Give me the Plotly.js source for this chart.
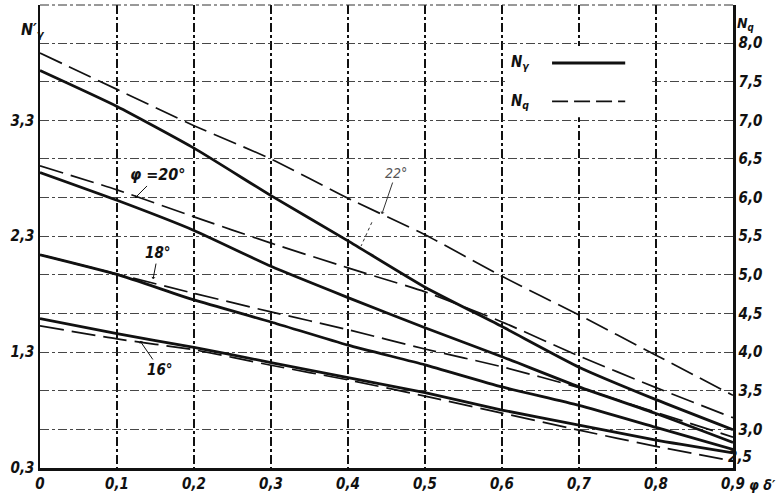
<!DOCTYPE html>
<html>
<head>
<meta charset="utf-8">
<script src="https://cdn.plot.ly/plotly-3.0.1.min.js"></script>
<style>
  html, body { margin: 0; padding: 0; background: #fff; }
  #chart { width: 783px; height: 496px; }
</style>
</head>
<body>
<div id="chart"></div>
<script>
// delta'/phi ratio
var ratio = [0, 0.1, 0.2, 0.3, 0.4, 0.5, 0.6, 0.7, 0.8, 0.9];
var ratioLabels = ['0', '0,1', '0,2', '0,3', '0,4', '0,5', '0,6', '0,7', '0,8', '0,9'];

// N_gamma (solid, left axis)
var nGamma22 = [3.73, 3.42, 3.06, 2.65, 2.26, 1.86, 1.52, 1.17, 0.89, 0.63];
var nGamma20 = [2.85, 2.61, 2.35, 2.04, 1.77, 1.51, 1.26, 1.00, 0.77, 0.52];
var nGamma18 = [2.14, 1.97, 1.75, 1.56, 1.36, 1.19, 1.00, 0.84, 0.65, 0.46];
var nGamma16 = [1.59, 1.46, 1.34, 1.21, 1.08, 0.95, 0.80, 0.67, 0.54, 0.43];

// N_q (dashed, right axis)
var nQ22 = [7.87, 7.40, 6.93, 6.50, 5.99, 5.52, 4.98, 4.48, 3.96, 3.44];
var nQ20 = [6.41, 6.10, 5.75, 5.41, 5.09, 4.78, 4.39, 3.95, 3.54, 3.15];
var nQ18 = [5.26, 5.01, 4.76, 4.52, 4.29, 4.04, 3.81, 3.54, 3.22, 2.90];
var nQ16 = [4.34, 4.17, 4.03, 3.83, 3.64, 3.43, 3.21, 2.99, 2.78, 2.59];

var leftTicks = [0.3, 1.3, 2.3, 3.3];
var leftLabels = ['0,3', '1,3', '2,3', '3,3'];
// 2,5 is written a little above its line, so it is added separately
var rightTicks = [2.5, 3.0, 3.5, 4.0, 4.5, 5.0, 5.5, 6.0, 6.5, 7.0, 7.5, 8.0];
var rightLabels = ['', '3,0', '3,5', '4,0', '4,5', '5,0', '5,5', '6,0', '6,5', '7,0', '7,5', '8,0'];

var FONT = 'DejaVu Sans Condensed, Liberation Sans Narrow, DejaVu Sans, sans-serif';
var INK = '#111';

function solid(y) {
    return { x: ratio, y: y, yaxis: 'y', mode: 'lines', type: 'scatter',
             line: { color: INK, width: 2.8, shape: 'spline', smoothing: 0.5 },
             hoverinfo: 'skip', showlegend: false };
}
function dashed(y) {
    return { x: ratio, y: y, yaxis: 'y2', mode: 'lines', type: 'scatter',
             line: { color: INK, width: 1.7, dash: '24px,8px', shape: 'spline', smoothing: 0.5 },
             hoverinfo: 'skip', showlegend: false };
}

var data = [
    solid(nGamma22), solid(nGamma20), solid(nGamma18), solid(nGamma16),
    dashed(nQ22), dashed(nQ20), dashed(nQ18), dashed(nQ16)
];

function font(size, color) {
    return { family: FONT, size: size, color: color || INK, style: 'italic', weight: 'bold' };
}

var layout = {
    width: 783,
    height: 496,
    margin: { l: 40, r: 50, t: 5, b: 28 },
    paper_bgcolor: '#fff',
    plot_bgcolor: '#fff',
    showlegend: false,
    xaxis: {
        range: [0, 0.9],
        tickvals: ratio,
        ticktext: ratioLabels,
        tickfont: font(15),
        ticks: '',
        showgrid: true,
        gridcolor: INK,
        gridwidth: 1.3,
        griddash: 'dashdot',
        showline: true,
        linecolor: INK,
        linewidth: 2.5,
        zeroline: false,
        fixedrange: true
    },
    yaxis: {
        range: [0.3, 4.295],
        tickvals: leftTicks,
        ticktext: leftLabels,
        tickfont: font(15),
        ticks: '',
        showgrid: false,
        showline: true,
        linecolor: INK,
        linewidth: 2.5,
        zeroline: false,
        fixedrange: true
    },
    yaxis2: {
        overlaying: 'y',
        side: 'right',
        range: [2.5, 8.492],
        tickvals: rightTicks,
        ticktext: rightLabels,
        tickfont: font(15),
        ticks: '',
        showgrid: true,
        gridcolor: '#333',
        gridwidth: 0.9,
        griddash: 'dashdot',
        showline: true,
        linecolor: INK,
        linewidth: 2.5,
        zeroline: false,
        fixedrange: true
    },
    shapes: [
        // dashed top frame
        { type: 'line', xref: 'paper', yref: 'paper', x0: 0, x1: 1, y0: 1, y1: 1,
          line: { color: '#333', width: 1, dash: 'dashdot' } },
        // legend cell blanked out
        { type: 'rect', xref: 'x', yref: 'y2', x0: 0.605, x1: 0.795, y0: 7.04, y1: 7.96,
          fillcolor: '#fff', line: { width: 0 }, layer: 'above' },
        { type: 'line', xref: 'x', yref: 'y2', x0: 0.665, x1: 0.76, y0: 7.741, y1: 7.741,
          line: { color: INK, width: 3 } },
        { type: 'line', xref: 'x', yref: 'y2', x0: 0.665, x1: 0.76, y0: 7.244, y1: 7.244,
          line: { color: INK, width: 1.7, dash: '16px,6px' } },
        // dotted leader to the 22 deg solid curve
        { type: 'line', xref: 'x', yref: 'y', x0: 0.431, x1: 0.417, y0: 2.42, y1: 2.215,
          line: { color: '#333', width: 1, dash: 'dot' } }
    ],
    annotations: [
        { xref: 'paper', yref: 'paper', x: -0.03, y: 0.972, showarrow: false,
          text: 'N\u2032<sub>γ</sub>', font: font(16) },
        { xref: 'paper', yref: 'paper', x: 1.034, y: 0.982, showarrow: false,
          text: 'N<sub>q</sub>', font: font(14) },
        { xref: 'paper', yref: 'paper', x: 1.03, y: 0.024, yanchor: 'middle', showarrow: false,
          text: '2,5', font: font(15) },
        { xref: 'paper', yref: 'paper', x: 1.02, y: -0.036, xanchor: 'left', yanchor: 'middle',
          showarrow: false, text: 'φ δ\u2032', font: font(14) },
        // legend labels
        { xref: 'x', yref: 'y2', x: 0.624, y: 7.754, showarrow: false,
          text: 'N<sub>γ</sub>', font: font(15) },
        { xref: 'x', yref: 'y2', x: 0.624, y: 7.237, showarrow: false,
          text: 'N<sub>q</sub>', font: font(15) },
        // curve labels
        { xref: 'x', yref: 'y', x: 0.1234, y: 2.63, ax: 23, ay: -23,
          text: 'φ =20°', showarrow: true, arrowhead: 1, arrowsize: 0.7, arrowwidth: 1, arrowcolor: INK,
          font: font(16) },
        { xref: 'x', yref: 'y', x: 0.1468, y: 1.93, ax: 5, ay: -26,
          text: '18°', showarrow: true, arrowhead: 1, arrowsize: 0.7, arrowwidth: 1, arrowcolor: INK,
          font: font(15) },
        { xref: 'x', yref: 'y', x: 0.13, y: 1.396, ax: 20, ay: 29,
          text: '16°', showarrow: true, arrowhead: 1, arrowsize: 0.7, arrowwidth: 1, arrowcolor: INK,
          font: font(15) },
        { xref: 'x', yref: 'y2', x: 0.444, y: 5.787, ax: 14, ay: -41,
          text: '22°', showarrow: true, arrowhead: 1, arrowsize: 0.7, arrowwidth: 1, arrowcolor: '#333',
          font: { family: FONT, size: 14, color: '#555', style: 'italic' } }
    ]
};

Plotly.newPlot('chart', data, layout, { staticPlot: true, displayModeBar: false });
</script>
</body>
</html>
